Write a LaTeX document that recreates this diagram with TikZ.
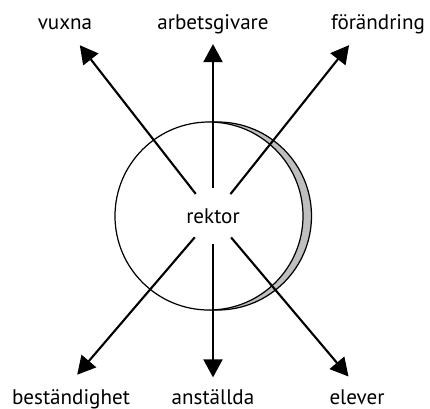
\documentclass[tikz,border=0pt]{standalone}
\usepackage{fontspec}
\setmainfont{PT Sans}
\usepackage{tikz}
\usetikzlibrary{arrows.meta}
\usetikzlibrary{positioning}

\begin{document}
\begin{tikzpicture}[
		ord/.style = {anchor=base, inner sep=0pt, text height=8.7pt, text depth=2.7pt, font=\fontsize{12}{14}\selectfont},
		pil/.style = {line width=1.2pt, -{Triangle[length=0.36cm, width=0.38cm]}}
	]
		\useasboundingbox (-4.26,-3.84) rectangle (4.34,4.32);
	
		% skugga och cirkel
		\draw [line width=0.7pt, fill=gray!50] (0.09,0) circle (1.88);
		\draw [line width=0.7pt, fill=white] (-0.08,0) circle (1.88);
	
		\node[circle, minimum size=1cm, inner sep=0pt, font=\fontsize{12}{14}\selectfont] (rektor) at (0,0) {rektor};
	
		\node[ord] (vuxna) at (-2.96,3.73) {vuxna};
		\node[ord] (arbetsgivare) at (0,3.73) {arbetsgivare};
		\node[ord] (forandring) at (3.30,3.73) {förändring};
		\node[ord] (bestandighet) at (-2.84,-3.76) {beständighet};
		\node[ord] (anstallda) at (0,-3.76) {anställda};
		\node[ord] (elever) at (2.88,-3.76) {elever};
	
		\draw [pil, shorten >=0.27cm] (rektor) -- ([xshift=0.13cm]vuxna.south);
		\draw [pil, shorten >=0.19cm] (rektor) -- (arbetsgivare.south);
		\draw [pil, shorten >=0.27cm] (rektor) -- ([xshift=-0.41cm]forandring.south);
		\draw [pil, shorten >=0.36cm] (rektor) -- ([xshift=-0.11cm]bestandighet.north);
		\draw [pil, shorten >=0.22cm] (rektor) -- (anstallda.north);
		\draw [pil, shorten >=0.31cm] (rektor) -- ([xshift=0.03cm]elever.north);
	
\end{tikzpicture}
\end{document}
